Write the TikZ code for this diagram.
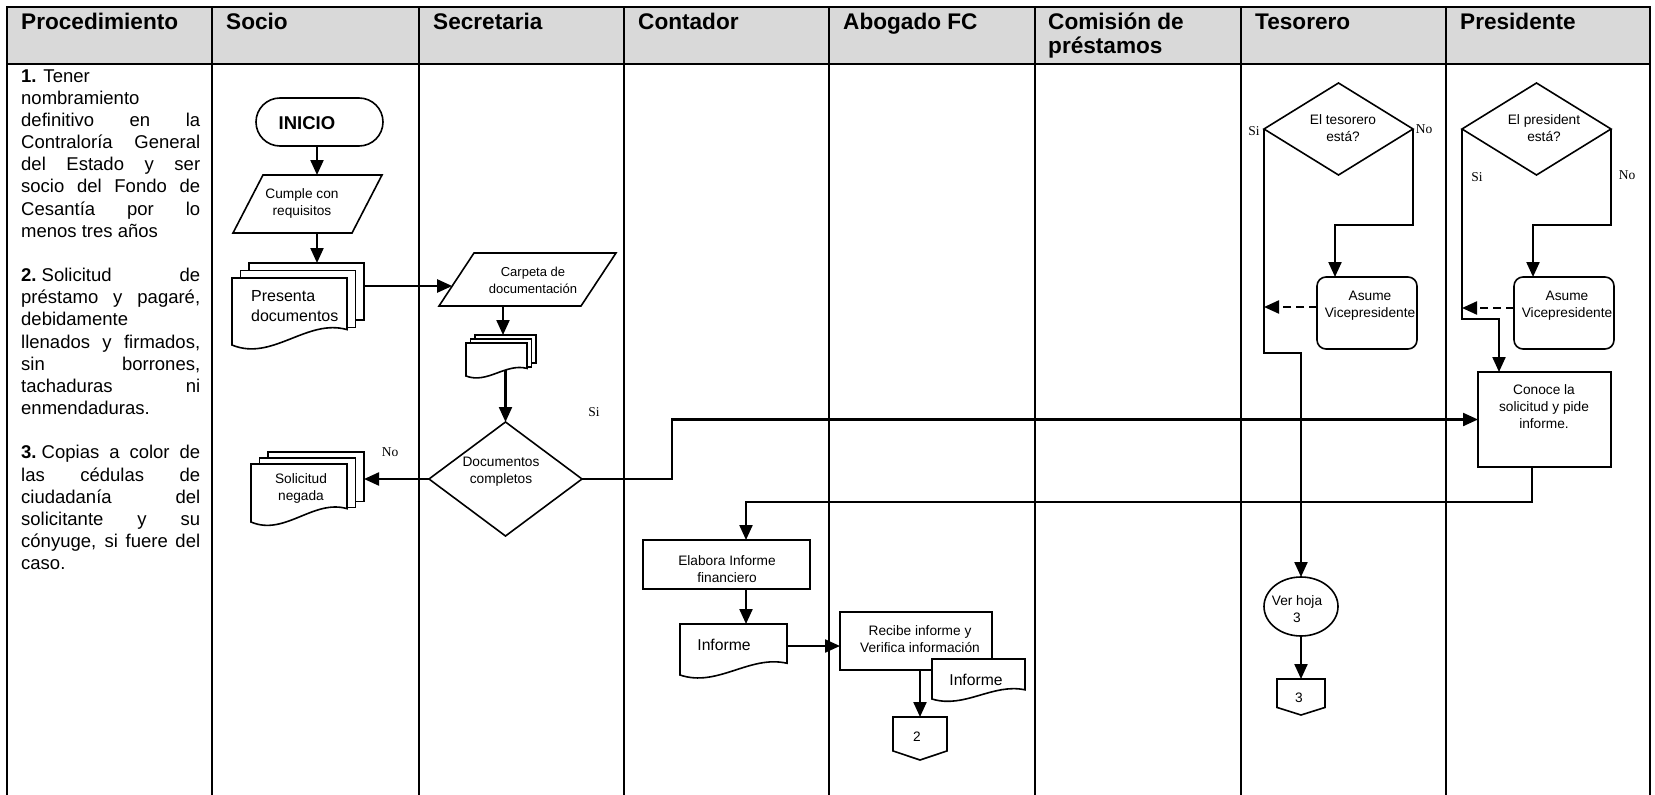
\documentclass[tikz,border=0pt]{standalone}
\usepackage{fontspec}
\setmainfont{Liberation Sans}
\newfontfamily\ynfont{Liberation Serif}
\usetikzlibrary{arrows.meta,calc,shapes.geometric}

\pgfdeclarelayer{bg}
\pgfdeclarelayer{fg}
\pgfsetlayers{bg,main,fg}

\definecolor{hdrgray}{RGB}{217,217,217}

% one justified line of the procedure column
\newcommand\justline[1]{\makebox[179pt][s]{#1}}

% stack of three sheets: node, sheet width, sheet height, dx, dy
\newcommand\multidoc[5]{%
  \begin{scope}[shift={(#1.north west)}]
    \draw[shp] (2*#4,0) rectangle ++(#2,0.85*#3);
    \draw[shp] (#4,#5) rectangle ++(#2,0.85*#3);
    \draw[shp] (0,2*#5) -- (#2,2*#5) -- (#2,2*#5+0.77*#3)
      .. controls (0.65*#2,2*#5+0.6*#3) and (0.35*#2,2*#5+1.25*#3) .. (0,2*#5+#3) -- cycle;
  \end{scope}}

% single document sheet: node, width, height
\newcommand\docshape[3]{%
  \begin{scope}[shift={(#1.north west)}]
    \draw[shp] (0,0) -- (#2,0) -- (#2,0.77*#3)
      .. controls (0.65*#2,0.6*#3) and (0.35*#2,1.25*#3) .. (0,#3) -- cycle;
  \end{scope}}

% off-page connector
\newcommand\offpage[1]{%
  \draw[shp] (#1.north west) -- (#1.north east) -- ($(#1.north east)!0.79!(#1.south east)$)
    -- (#1.south) -- ($(#1.north west)!0.79!(#1.south west)$) -- cycle;}

% decision outline
\newcommand\diamondat[1]{%
  \draw[shp] (#1.north) -- (#1.east) -- (#1.south) -- (#1.west) -- cycle;}

\begin{document}
\begin{tikzpicture}[x=1pt,y=-1pt,
  lane/.style={line width=2.6pt,line cap=rect},
  shp/.style={draw,line width=1.6pt,fill=white},
  bb/.style 2 args={minimum width=#1,minimum height=#2,inner sep=0pt,outer sep=0pt},
  conn/.style={line width=2.2pt},
  arr/.style={conn,-{Triangle[length=15pt,width=13pt]}},
  darr/.style={arr,dash pattern=on 8pt off 5pt},
  txt/.style={inner sep=0pt,align=center,font=\fontsize{13.7}{17}\selectfont},
  big/.style={inner sep=0pt,align=center,font=\fontsize{15.7}{19}\selectfont},
  yn/.style={inner sep=0pt,font=\ynfont\fontsize{13.5}{15}\selectfont},
  hdr/.style={anchor=base west,inner sep=0pt,font=\bfseries\fontsize{22.6}{24}\selectfont},
  proc/.style={anchor=base west,inner sep=0pt,font=\fontsize{18.5}{22}\selectfont},
]
\useasboundingbox (0,0) rectangle (1655,795);

% ---------------- table ----------------
\begin{pgfonlayer}{bg}
  \fill[hdrgray] (7,7) rectangle (1650,64);
  \draw[lane] (7,7) -- (1650,7);
  \draw[lane] (7,64) -- (1650,64);
  \foreach \x in {7,212,419,624,829,1035,1241,1446,1650}
    \draw[lane] (\x,7) -- (\x,800);
\end{pgfonlayer}

\node[hdr] (hproc) at (21,29) {Procedimiento};
\node[hdr] (hsocio) at (226,29) {Socio};
\node[hdr] (hsec) at (433,29) {Secretaria};
\node[hdr] (hcont) at (638,29) {Contador};
\node[hdr] (habog) at (843,29) {Abogado FC};
\node[hdr] (hcom1) at (1048,29) {Comisión de};
\node[hdr] (hcom2) at (1048,53) {préstamos};
\node[hdr] (htes) at (1255,29) {Tesorero};
\node[hdr] (hpres) at (1460,29) {Presidente};

% ---------------- procedure column ----------------
\node[proc] (p1) at (21,82) {\textbf{1.} Tener};
\node[proc] (p2) at (21,104.2) {nombramiento};
\node[proc] (p3) at (21,126.3) {\justline{definitivo en la}};
\node[proc] (p4) at (21,148.5) {\justline{Contraloría General}};
\node[proc] (p5) at (21,170.7) {\justline{del Estado y ser}};
\node[proc] (p6) at (21,192.9) {\justline{socio del Fondo de}};
\node[proc] (p7) at (21,215) {\justline{Cesantía por lo}};
\node[proc] (p8) at (21,237.2) {menos tres años};
\node[proc] (p9) at (21,281.5) {\justline{\textbf{2.}\hspace{5.1pt}Solicitud de}};
\node[proc] (p10) at (21,303.7) {\justline{préstamo y pagaré,}};
\node[proc] (p11) at (21,325.9) {debidamente};
\node[proc] (p12) at (21,348) {\justline{llenados y firmados,}};
\node[proc] (p13) at (21,370.2) {\justline{sin borrones,}};
\node[proc] (p14) at (21,392.4) {\justline{tachaduras ni}};
\node[proc] (p15) at (21,414.6) {enmendaduras.};
\node[proc] (p16) at (21,458.9) {\justline{\textbf{3.}\hspace{5.1pt}Copias a color de}};
\node[proc] (p17) at (21,481.1) {\justline{las cédulas de}};
\node[proc] (p18) at (21,503.2) {\justline{ciudadanía del}};
\node[proc] (p19) at (21,525.4) {\justline{solicitante y su}};
\node[proc] (p20) at (21,547.6) {\justline{cónyuge, si fuere del}};
\node[proc] (p21) at (21,569.7) {caso.};

% ---------------- flowchart shapes ----------------
\begin{pgfonlayer}{fg}
  % Socio
  \node[shp,bb={127pt}{48pt},rounded corners=24pt] (inicio) at (319.5,122) {};
  \node[inner sep=0pt,font=\bfseries\fontsize{18.5}{20}\selectfont] (inicio-t) at (307,123) {INICIO};

  \node[bb={149pt}{58pt}] (cumple) at (307.5,204) {};
  \draw[shp] (cumple.south west) -- ($(cumple.north west)+(30,0)$) -- (cumple.north east)
    -- ($(cumple.south east)+(-30,0)$) -- cycle;
  \node[txt] (cumple-t) at (302,203) {Cumple con\\requisitos};

  \node[bb={132pt}{82pt}] (presenta) at (298,304) {};
  \multidoc{presenta}{115}{67}{8.5}{7.5}
  \node[inner sep=0pt,align=left,anchor=west,font=\fontsize{16}{20}\selectfont] (presenta-t) at (251,306) {Presenta\\documentos};

  \node[bb={113pt}{70pt}] (negada) at (307.5,487) {};
  \multidoc{negada}{96}{58}{8.5}{6}
  \node[txt] (negada-t) at (301,488) {Solicitud\\negada};

  % Secretaria
  \node[bb={177pt}{53pt}] (carpeta) at (527.5,279.5) {};
  \draw[shp] (carpeta.south west) -- ($(carpeta.north west)+(35,0)$) -- (carpeta.north east)
    -- ($(carpeta.south east)+(-35,0)$) -- cycle;
  \node[txt,font=\fontsize{13}{17}\selectfont] (carpeta-t) at (533,280) {Carpeta de\\documentación};

  \node[bb={70pt}{41pt}] (expediente) at (501,355.5) {};
  \multidoc{expediente}{61}{33}{4.5}{4}

  \node[bb={153pt}{114pt}] (doccomp) at (505.5,479) {};
  \diamondat{doccomp}
  \node[txt] (doccomp-t) at (501,472) {Documentos\\completos};

  \node[yn] (no1) at (390,452) {No};
  \node[yn] (si1) at (594,412) {Si};

  % Contador
  \node[shp,bb={167pt}{49pt}] (elabora) at (726.5,564.5) {};
  \node[txt] (elabora-t) at (727,569) {Elabora Informe\\financiero};

  \node[bb={107pt}{51pt}] (informe) at (733.5,649.5) {};
  \docshape{informe}{107}{51}
  \node[big] (informe-t) at (724,645) {Informe};

  % Abogado FC
  \node[shp,bb={152pt}{58pt}] (recibe) at (916,641) {};
  \node[txt] (recibe-t) at (920,639) {Recibe informe y\\Verifica información};

  \node[bb={93pt}{40pt}] (informe2) at (978.5,679) {};
  \docshape{informe2}{93}{40}
  \node[big] (informe2-t) at (976,680) {Informe};

  \node[bb={54pt}{43pt}] (pag2) at (920,738.5) {};
  \offpage{pag2}
  \node[txt] (pag2-t) at (917,737) {2};

  % Tesorero
  \node[bb={149pt}{92pt}] (tdiam) at (1338.5,129) {};
  \diamondat{tdiam}
  \node[txt] (tdiam-t) at (1343,128) {El tesorero\\está?};
  \node[yn] (si2) at (1254,131) {Si};
  \node[yn] (no2) at (1424,129) {No};

  \node[shp,bb={100pt}{72pt},rounded corners=9pt] (asumet) at (1367,313) {};
  \node[txt] (asumet-t) at (1370,306) {Asume\\Vicepresidente};

  \node[shp,ellipse,bb={74pt}{59pt}] (verhoja) at (1301,606.5) {};
  \node[txt] (verhoja-t) at (1297,609) {Ver hoja\\3};

  \node[bb={48pt}{36pt}] (pag3) at (1301,697) {};
  \offpage{pag3}
  \node[txt] (pag3-t) at (1299,698) {3};

  % Presidente
  \node[bb={149pt}{92pt}] (pdiam) at (1536.5,129) {};
  \diamondat{pdiam}
  \node[txt] (pdiam-t) at (1544,128) {El president\\está?};
  \node[yn] (si3) at (1477,177) {Si};
  \node[yn] (no3) at (1627,175) {No};

  \node[shp,bb={100pt}{72pt},rounded corners=9pt] (asumep) at (1564,313) {};
  \node[txt] (asumep-t) at (1567,306) {Asume\\Vicepresidente};

  \node[shp,bb={133pt}{95pt}] (conoce) at (1544.5,419.5) {};
  \node[txt] (conoce-t) at (1544,407) {Conoce la\\solicitud y pide\\informe.};
\end{pgfonlayer}

% ---------------- connectors ----------------
\coordinate (c1) at ([xshift=-2.5pt]inicio.south);
\draw[arr] (c1) -- (c1 |- cumple.north);

\coordinate (c2) at ([xshift=9.5pt]cumple.south);
\draw[arr] (c2) -- (c2 |- presenta.north);

\coordinate (c3) at ($(presenta.north east)+(0,23)$);
\coordinate (c3e) at ($($(carpeta.north west)+(35,0)$)!0.623!(carpeta.south west)$);
\draw[arr] (c3) -- (c3 -| c3e);

\coordinate (c4) at ([xshift=-24.5pt]carpeta.south);
\draw[arr] (c4) -- (c4 |- expediente.north);

\draw[arr] (expediente.center -| doccomp.north) -- (doccomp.north);

\draw[arr] (doccomp.west) -- (doccomp.west -| negada.east);

\draw[arr] (doccomp.east) -- ++(90,0) |- (conoce.west);

\coordinate (c8) at ([xshift=-12.5pt]conoce.south);
\coordinate (c8e) at ([xshift=19.5pt]elabora.north);
\draw[arr] (c8) -- ++(0,35) -| (c8e);

\coordinate (c9) at ([xshift=19.5pt]elabora.south);
\draw[arr] (c9) -- (c9 |- informe.north);

\coordinate (c10) at ([yshift=3.5pt]informe.east);
\draw[arr] (c10) -- (c10 -| recibe.west);

\coordinate (c11) at ([xshift=4pt]recibe.south);
\draw[arr] (c11) -- (c11 |- pag2.north);

\coordinate (c12e) at ([xshift=-32pt]asumet.north);
\draw[arr] (tdiam.east) -- ++(0,96) -| (c12e);

\coordinate (c13) at ([yshift=6pt]asumet.west);
\draw[darr] (c13) -- (c13 -| tdiam.west);

\draw[arr] (tdiam.west) -- ++(0,224) -| (verhoja.north);
\draw[arr] (verhoja.south) -- (pag3.north);

\coordinate (c16e) at ([xshift=-31pt]asumep.north);
\draw[arr] (pdiam.east) -- ++(0,96) -| (c16e);

\coordinate (c17) at ([yshift=5pt]asumep.west);
\draw[darr] (c17) -- (c17 -| pdiam.west);

\coordinate (c18e) at ([xshift=-45.5pt]conoce.north);
\draw[arr] (pdiam.west) -- ++(0,190) -| (c18e);

\end{tikzpicture}
\end{document}
